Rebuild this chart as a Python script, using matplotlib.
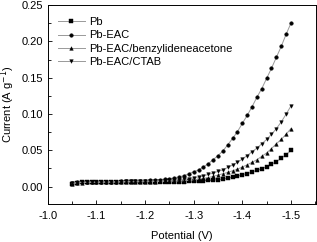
import matplotlib
matplotlib.use("Agg")
import matplotlib.pyplot as plt
from matplotlib.ticker import MultipleLocator

plt.rcParams['font.family'] = ['Liberation Sans', 'DejaVu Sans']

# DATA

potential = [-1.05, -1.06, -1.07, -1.08, -1.09, -1.10, -1.11, -1.12, -1.13, -1.14,
             -1.15, -1.16, -1.17, -1.18, -1.19, -1.20, -1.21, -1.22, -1.23, -1.24,
             -1.25, -1.26, -1.27, -1.28, -1.29, -1.30, -1.31, -1.32, -1.33, -1.34,
             -1.35, -1.36, -1.37, -1.38, -1.39, -1.40, -1.41, -1.42, -1.43, -1.44,
             -1.45, -1.46, -1.47, -1.48, -1.49, -1.50]

pb = [0.004, 0.005, 0.006, 0.006, 0.006, 0.006, 0.006, 0.006, 0.006, 0.006,
      0.006, 0.006, 0.006, 0.006, 0.006, 0.0065, 0.0065, 0.007, 0.007, 0.007,
      0.007, 0.007, 0.007, 0.007, 0.0075, 0.0075, 0.008, 0.008, 0.0085, 0.009,
      0.0095, 0.0103, 0.0117, 0.013, 0.0145, 0.0163, 0.018, 0.020, 0.0223, 0.0246,
      0.0274, 0.0306, 0.0344, 0.039, 0.044, 0.0497]

pb_eac = [0.005, 0.006, 0.0062, 0.0064, 0.0065, 0.0066, 0.0067, 0.0068, 0.0069, 0.007,
          0.0072, 0.0074, 0.0076, 0.0078, 0.008, 0.0083, 0.0087, 0.0092, 0.0097, 0.0103,
          0.011, 0.012, 0.0135, 0.015, 0.0177, 0.0204, 0.023, 0.027, 0.0316, 0.037,
          0.0427, 0.049, 0.0576, 0.0663, 0.0757, 0.087, 0.098, 0.110, 0.123, 0.135,
          0.149, 0.163, 0.178, 0.193, 0.2097, 0.225]

pb_eac_benz = [0.004, 0.005, 0.0055, 0.006, 0.006, 0.006, 0.006, 0.006, 0.006, 0.006,
               0.0062, 0.0062, 0.0064, 0.0065, 0.0066, 0.0067, 0.0068, 0.007, 0.0071, 0.0072,
               0.0074, 0.0076, 0.0078, 0.008, 0.0087, 0.0093, 0.010, 0.0112, 0.0125, 0.014,
               0.0159, 0.0177, 0.0195, 0.0218, 0.024, 0.027, 0.030, 0.0334, 0.037, 0.0417,
               0.0464, 0.0524, 0.059, 0.065, 0.072, 0.080]

pb_eac_ctab = [0.005, 0.0055, 0.006, 0.006, 0.0062, 0.0063, 0.0064, 0.0065, 0.0066, 0.0068,
               0.007, 0.0071, 0.0072, 0.0074, 0.0075, 0.0077, 0.0079, 0.008, 0.0082, 0.0083,
               0.0085, 0.009, 0.0095, 0.010, 0.011, 0.012, 0.0134, 0.0149, 0.0167, 0.0186,
               0.021, 0.023, 0.0264, 0.0298, 0.0334, 0.038, 0.0427, 0.048, 0.053, 0.059,
               0.065, 0.072, 0.0798, 0.089, 0.0997, 0.111]

labels = ["Pb", "Pb-EAC", "Pb-EAC/benzylideneacetone", "Pb-EAC/CTAB"]
markers = ["s", "o", "^", "v"]

# PLOT

fig = plt.figure(figsize=(3.17, 2.42), dpi=100)
ax = fig.add_axes([0.151, 0.157, 0.845, 0.822])

for series, lab, mk in zip([pb, pb_eac, pb_eac_benz, pb_eac_ctab], labels, markers):
    ax.plot(potential, series, color="#999999", linewidth=0.7,
            marker=mk, markersize=2.6, markerfacecolor="black",
            markeredgecolor="black", markeredgewidth=0.3, label=lab)

ax.set_xlim(-1.0, -1.551)
ax.set_ylim(-0.024, 0.25)

ax.xaxis.set_major_locator(MultipleLocator(0.1))
ax.xaxis.set_minor_locator(MultipleLocator(0.05))
ax.yaxis.set_major_locator(MultipleLocator(0.05))
ax.yaxis.set_minor_locator(MultipleLocator(0.025))

ax.tick_params(which="both", direction="in", labelsize=8, width=0.6)
ax.tick_params(which="major", length=3)
ax.tick_params(which="minor", length=2)
ax.tick_params(axis="x", pad=5)
ax.xaxis.set_major_formatter(plt.FuncFormatter(lambda v, p: f"{v:.1f}"))
ax.yaxis.set_major_formatter(plt.FuncFormatter(lambda v, p: f"{v:.2f}"))

for sp in ax.spines.values():
    sp.set_linewidth(0.7)

ax.set_xlabel("Potential (V)", fontsize=8, labelpad=7)
ax.set_ylabel("Current (A g$^{-1}$)", fontsize=8, labelpad=3)

ax.legend(loc="upper left", frameon=False, fontsize=8, handlelength=2.4,
          handletextpad=0.4, labelspacing=0.3, borderaxespad=0.5,
          bbox_to_anchor=(0.0, 0.99))

fig.savefig("out.png", dpi=100)
